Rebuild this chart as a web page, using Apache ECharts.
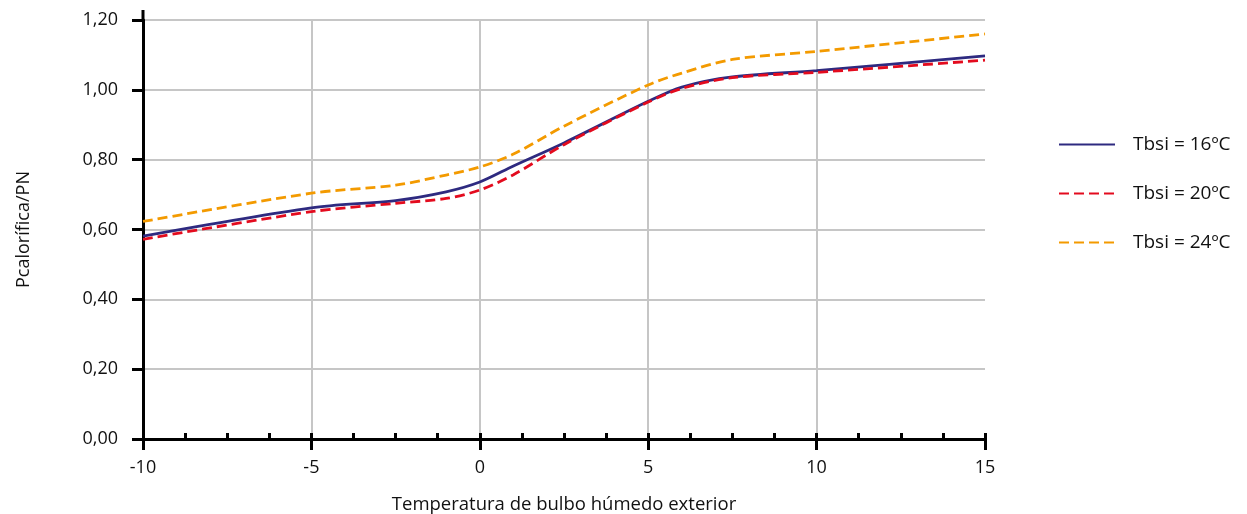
<!DOCTYPE html>
<html><head><meta charset="utf-8">
<script src="https://cdn.jsdelivr.net/npm/echarts@6/dist/echarts.min.js"></script>
<style>html,body{margin:0;padding:0;background:#fff}#c{width:1247px;height:514px}</style>
</head><body><div id="c"></div>
<script>
var xVals  = [-10, -5, -2.5, -1, 0, 1, 2.5, 5, 6, 7.5, 10, 15];
var tbsi16 = [0.581, 0.662, 0.683, 0.708, 0.736, 0.782, 0.848, 0.967, 1.008, 1.037, 1.055, 1.097];
var tbsi20 = [0.572, 0.651, 0.675, 0.689, 0.713, 0.757, 0.843, 0.965, 1.004, 1.035, 1.050, 1.085];
var tbsi24 = [0.623, 0.704, 0.727, 0.756, 0.779, 0.816, 0.896, 1.014, 1.048, 1.087, 1.110, 1.160];
var seriesNames = ['Tbsi = 16ºC', 'Tbsi = 20ºC', 'Tbsi = 24ºC'];
var xTitle = 'Temperatura de bulbo húmedo exterior';
var yTitle = 'Pcalorífica/PN';

function pairs(v){ return xVals.map(function(x,i){ return [x, v[i]]; }); }
var font = '"Open Sans", "DejaVu Sans", sans-serif';
var chart = echarts.init(document.getElementById('c'));
var option = {
  animation: false,
  backgroundColor: '#fff',
  textStyle: { fontFamily: font },
  grid: { left: 143, right: 262, top: 20, bottom: 75, containLabel: false, outerBoundsMode: 'none' },
  legend: {
    orient: 'vertical', left: 1053, top: 130, itemGap: 30,
    itemWidth: 56, itemHeight: 14,
    itemStyle: { opacity: 0 },
    textStyle: { fontSize: 19, color: '#111', fontFamily: font, padding: [0,0,0,13] },
    data: seriesNames
  },
  xAxis: [{
    type: 'value', min: -10, max: 15, interval: 5,
    name: xTitle, nameLocation: 'middle', nameGap: 56,
    nameTextStyle: { fontSize: 18.5, color: '#111' },
    axisLine: { show: true, onZero: false, lineStyle: { color: '#000', width: 3 } },
    axisTick: { show: true, inside: false, length: 11, lineStyle: { color: '#000', width: 3 } },
    axisLabel: { fontSize: 18, color: '#111', margin: 20 },
    splitLine: { show: true, showMaxLine: false, lineStyle: { color: '#c6c6c6', width: 2 } }
  }, {
    type: 'value', min: -10, max: 15, interval: 1.25, position: 'bottom',
    axisLine: { show: false, onZero: false },
    axisTick: { show: true, inside: true, length: 6, lineStyle: { color: '#000', width: 3 } },
    axisLabel: { show: false },
    splitLine: { show: false }
  }],
  yAxis: {
    type: 'value', min: 0, max: 1.2, interval: 0.2,
    name: yTitle, nameLocation: 'middle', nameGap: 110, nameRotate: 90,
    nameTextStyle: { fontSize: 18, color: '#111' },
    axisLine: { show: true, onZero: false, lineStyle: { color: '#000', width: 3 } },
    axisTick: { show: true, inside: false, length: 11, lineStyle: { color: '#000', width: 3 } },
    axisLabel: { fontSize: 18, color: '#111', margin: 25, formatter: function(v){ return v.toFixed(2).replace('.', ','); } },
    splitLine: { show: true, lineStyle: { color: '#c6c6c6', width: 2 } }
  },
  series: [
    { name: seriesNames[0], type: 'line', data: pairs(tbsi16), smooth: 0.3, symbol: 'none',
      lineStyle: { color: '#2e2a80', width: 2.8, type: 'solid' }, itemStyle: { color: '#2e2a80' } },
    { name: seriesNames[1], type: 'line', data: pairs(tbsi20), smooth: 0.3, symbol: 'none',
      lineStyle: { color: '#e30b1e', width: 2.8, type: [10, 5] }, itemStyle: { color: '#e30b1e' } },
    { name: seriesNames[2], type: 'line', data: pairs(tbsi24), smooth: 0.3, symbol: 'none',
      lineStyle: { color: '#f39a00', width: 2.8, type: [10, 5] }, itemStyle: { color: '#f39a00' } }
  ]
};
chart.setOption(option);
var p0 = chart.convertToPixel({ xAxisIndex: 0, yAxisIndex: 0 }, [-10, 1.2]);
chart.setOption({ graphic: [{ type: 'line', shape: { x1: p0[0], y1: p0[1] - 10, x2: p0[0], y2: p0[1] }, style: { stroke: '#000', lineWidth: 3 } }] });
</script>
</body></html>
